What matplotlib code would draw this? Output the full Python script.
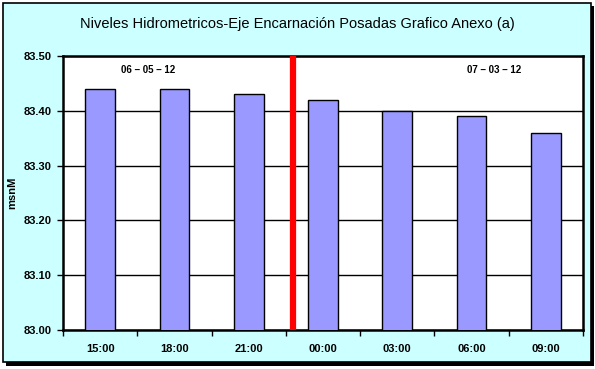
import matplotlib
matplotlib.use('Agg')
import matplotlib.pyplot as plt
from matplotlib.patches import Rectangle
import numpy as np

# Data
horas = ['15:00', '18:00', '21:00', '00:00', '03:00', '06:00', '09:00']
niveles = [83.44, 83.44, 83.43, 83.42, 83.40, 83.39, 83.36]
fechas = ['06 – 05 – 12', '07 – 03 – 12']

plt.rcParams['font.family'] = ['Liberation Sans', 'DejaVu Sans']

fig = plt.figure(figsize=(5.95, 3.69), dpi=100)
fig.patch.set_facecolor('white')

W, H = 595, 369
# shadow + frame of the chart area
fig.patches.append(Rectangle((6 / W, 1 - 366 / H), 588 / W, 360 / H,
                             transform=fig.transFigure, facecolor='black',
                             edgecolor='none', zorder=-3))
fig.patches.append(Rectangle((3 / W, 1 - 362 / H), 588 / W, 359 / H,
                             transform=fig.transFigure, facecolor='#CCFFFF',
                             edgecolor='black', linewidth=1.2, zorder=-2))

ax = fig.add_axes([63 / W, 1 - 330 / H, 520 / W, 274 / H])
ax.set_facecolor('white')

x = np.arange(len(horas))
ax.bar(x, niveles, width=0.4, color='#9999FF', edgecolor='black',
       linewidth=1.0, zorder=3)

# red divider between the two days
ax.axvline(2.59, color='#FF0000', linewidth=4.5, zorder=4)

ax.set_xlim(-0.5, len(horas) - 0.5)
ax.set_ylim(83.0, 83.5)
ax.set_yticks(np.arange(83.0, 83.51, 0.1))
ax.set_yticklabels([f'{v:.2f}' for v in np.arange(83.0, 83.51, 0.1)],
                   fontsize=8, fontweight='bold')
ax.yaxis.grid(True, color='black', linewidth=1.0, zorder=1)
ax.set_axisbelow(True)

ax.set_xticks(x)
ax.set_xticklabels(horas, fontsize=8, fontweight='bold')
ax.set_xticks(np.arange(-0.5, len(horas), 1), minor=True)
ax.tick_params(axis='x', which='major', length=0, pad=10)
ax.tick_params(axis='x', which='minor', length=4, width=1, direction='out')
ax.tick_params(axis='y', length=4, width=1, direction='out', pad=4)

for s in ax.spines.values():
    s.set_linewidth(1.8)
    s.set_color('black')

ax.set_ylabel('msnM', fontsize=8, fontweight='bold')
ax.yaxis.set_label_coords(-46 / 520, 0.5)

ax.text(0.65, 83.475, fechas[0], ha='center', va='center', fontsize=7,
        fontweight='bold')
ax.text(5.3, 83.475, fechas[1], ha='center', va='center', fontsize=7,
        fontweight='bold')

fig.text(0.5, 1 - 24 / H,
         'Niveles Hidrometricos-Eje Encarnación Posadas Grafico Anexo (a)',
         ha='center', va='center', fontsize=10.5)

fig.savefig('out.png', dpi=100, facecolor=fig.get_facecolor())
